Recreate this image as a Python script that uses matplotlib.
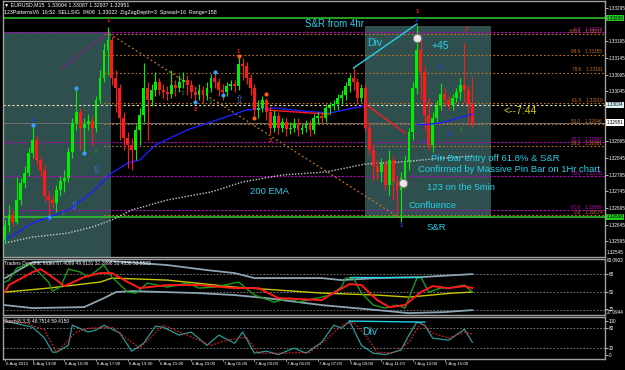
import matplotlib
matplotlib.use("Agg")
import matplotlib.pyplot as plt
import matplotlib.transforms as mtransforms
from matplotlib.patches import Rectangle

plt.rcParams['font.family'] = ['Liberation Sans', 'DejaVu Sans']

W, H = 625, 370

# ---- EURUSD M15 bars, 6 Aug 11:15 -> 7 Aug 16:45 ----
first_open = 1.32599
closes = [1.32644, 1.32674, 1.32653, 1.32719, 1.32770, 1.32800, 1.32860, 1.32899, 1.32839, 1.32809,
          1.32731, 1.32719, 1.32710, 1.32749, 1.32776, 1.32785, 1.32863, 1.32950, 1.32983, 1.32935,
          1.32947, 1.32956, 1.32935, 1.33019, 1.33085, 1.33169, 1.33199, 1.33085, 1.33055, 1.32965,
          1.32905, 1.32884, 1.32869, 1.32929, 1.32974, 1.33055, 1.33019, 1.33049, 1.33073, 1.33049,
          1.33043, 1.33037, 1.33064, 1.33055, 1.33073, 1.33079, 1.33064, 1.33043, 1.33034, 1.33049,
          1.33034, 1.33055, 1.33085, 1.33073, 1.33049, 1.33043, 1.33061, 1.33067, 1.33061, 1.33127,
          1.33121, 1.33085, 1.33055, 1.32989, 1.32995, 1.33019, 1.32983, 1.32935, 1.32971, 1.32935,
          1.32953, 1.32932, 1.32935, 1.32950, 1.32929, 1.32935, 1.32947, 1.32929, 1.32965, 1.32971,
          1.32965, 1.32995, 1.33001, 1.33007, 1.33025, 1.33034, 1.33061, 1.33085, 1.33073, 1.33025,
          1.33055, 1.32935, 1.32869, 1.32821, 1.32803, 1.32827, 1.32764, 1.32839, 1.32773, 1.32749,
          1.32785, 1.32833, 1.32923, 1.33055, 1.33169, 1.33103, 1.32974, 1.32884, 1.32965, 1.33001,
          1.33037, 1.33019, 1.33004, 1.33025, 1.33043, 1.33064, 1.33049, 1.33004, 1.32951]
highs = [1.32659, 1.32704, 1.32689, 1.32788, 1.32785, 1.32821, 1.32875, 1.32944, 1.32914, 1.32851,
         1.32824, 1.32749, 1.32734, 1.32764, 1.32791, 1.32809, 1.32878, 1.32965, 1.33055, 1.32995,
         1.32965, 1.32977, 1.32971, 1.33031, 1.33109, 1.33190, 1.33238, 1.33211, 1.33109, 1.33067,
         1.32983, 1.32923, 1.32905, 1.32944, 1.32995, 1.33130, 1.33073, 1.33067, 1.33103, 1.33085,
         1.33067, 1.33061, 1.33109, 1.33079, 1.33094, 1.33103, 1.33094, 1.33079, 1.33061, 1.33067,
         1.33061, 1.33073, 1.33097, 1.33103, 1.33085, 1.33067, 1.33073, 1.33079, 1.33079, 1.33154,
         1.33145, 1.33133, 1.33097, 1.33067, 1.33019, 1.33031, 1.33025, 1.33001, 1.32989, 1.32983,
         1.32965, 1.32965, 1.32953, 1.32965, 1.32965, 1.32947, 1.32959, 1.32959, 1.32977, 1.32983,
         1.32983, 1.33007, 1.33013, 1.33019, 1.33037, 1.33049, 1.33073, 1.33097, 1.33115, 1.33085,
         1.33067, 1.33067, 1.32953, 1.32887, 1.32839, 1.32845, 1.32839, 1.32869, 1.32851, 1.32791,
         1.32803, 1.32851, 1.32935, 1.33073, 1.33244, 1.33199, 1.33121, 1.33025, 1.32983, 1.33019,
         1.33070, 1.33055, 1.33034, 1.33037, 1.33055, 1.33085, 1.33190, 1.33064, 1.33087]
lows = [1.32590, 1.32623, 1.32641, 1.32647, 1.32704, 1.32755, 1.32791, 1.32845, 1.32824, 1.32791,
        1.32713, 1.32674, 1.32695, 1.32683, 1.32731, 1.32743, 1.32773, 1.32845, 1.32929, 1.32869,
        1.32863, 1.32929, 1.32881, 1.32923, 1.33007, 1.33073, 1.33094, 1.33064, 1.32983, 1.32899,
        1.32869, 1.32815, 1.32809, 1.32839, 1.32884, 1.32953, 1.32899, 1.33001, 1.33031, 1.33034,
        1.33025, 1.33019, 1.33025, 1.33031, 1.33043, 1.33055, 1.33034, 1.33025, 1.33013, 1.33019,
        1.33010, 1.33019, 1.33043, 1.33055, 1.33031, 1.33019, 1.33031, 1.33049, 1.33043, 1.33049,
        1.33079, 1.33067, 1.33034, 1.32965, 1.32965, 1.32983, 1.32959, 1.32917, 1.32923, 1.32917,
        1.32923, 1.32911, 1.32917, 1.32923, 1.32911, 1.32917, 1.32923, 1.32911, 1.32917, 1.32947,
        1.32947, 1.32953, 1.32977, 1.32989, 1.32989, 1.33007, 1.33019, 1.33043, 1.33049, 1.33007,
        1.33013, 1.32923, 1.32854, 1.32779, 1.32779, 1.32773, 1.32749, 1.32734, 1.32719, 1.32677,
        1.32653, 1.32755, 1.32809, 1.32899, 1.33037, 1.33019, 1.32929, 1.32869, 1.32863, 1.32953,
        1.32989, 1.33001, 1.32989, 1.32989, 1.33013, 1.33019, 1.33013, 1.32944, 1.32937]

# moving averages (sampled at bar index)
ema200_bars = [0, 7, 16, 22, 27, 32, 41, 52, 60, 70, 81, 91, 100, 108, 118]
ema200_vals = [1.32590, 1.32608, 1.32620, 1.32638, 1.32659, 1.32689, 1.32719, 1.32743, 1.32773,
               1.32794, 1.32803, 1.32827, 1.32833, 1.32842, 1.32851]
ema50_bars = [0, 7, 16, 22, 27, 31, 34, 38, 46, 52, 61, 68, 75, 82, 88, 91]
ema50_vals = [1.32599, 1.32650, 1.32689, 1.32743, 1.32800, 1.32830, 1.32839, 1.32884, 1.32929,
              1.32953, 1.32989, 1.32995, 1.32986, 1.32980, 1.32995, 1.33001]
ema50b_bars = [104, 105, 110, 118]
ema50b_vals = [1.32947, 1.32944, 1.32950, 1.32977]
red_ma_bars = [[66, 77, 82], [91, 101]]
red_ma_vals = [[1.32989, 1.32980, 1.32977], [1.33007, 1.32920]]

# levels
sr_levels = [1.33265, 1.32668]
bid_price = 1.32951
white_level = 1.33004
fib_orange = (1.32674, 1.33217)       # 0.0, 100.0
fib_magenta = (1.33223, 1.32359)      # 0.0, 100.0
fib_orange_levels = [0.0, 38.2, 50.0, 61.8, 78.6, 88.6, 100.0]
fib_magenta_levels = [0.0, 38.2, 50.0, 61.8]
price_ticks = [1.33295, 1.33245, 1.33195, 1.33145, 1.33095, 1.33045, 1.32995, 1.32945,
               1.32895, 1.32845, 1.32795, 1.32745, 1.32695, 1.32645, 1.32595]

# drawn objects (bar index, price)
orange_trend = ([26.5, 99.7], [1.33217, 1.32665])
magenta_trend = ([14.4, 26.2], [1.33115, 1.33223])
cyan_trend = ([88, 104], [1.33115, 1.33247])
box1 = (-0.5, 26.8, 1.32548, 1.33223)
box2 = (90.9, 122.7, 1.32665, 1.33241)

blue_dot_bars = [7, 18, 11, 53, 48, 55, 20]
blue_dot_vals = [1.32944, 1.33055, 1.32668, 1.33103, 1.33013, 1.33034, 1.32860]
orange_dot_bars = [59, 63, 66]
orange_dot_vals = [1.33150, 1.32965, 1.33037]
ring_bars = [100.5, 104]
ring_vals = [1.32770, 1.33205]
red_nums = [("1", 26, 1.33259), ("2", 29, 1.32983), ("1", 59, 1.33163), ("2", 67, 1.32899),
            ("1", 104, 1.33283), ("2", 116.5, 1.33229), ("2", 48, 1.32990)]
blue_nums = [("2", 7, 1.32956), ("1", 11, 1.32656), ("2", 104, 1.33259), ("1", 100, 1.32641),
             ("2", 110, 1.33115), ("3", 112, 1.32917), ("3", 106, 1.32893)]
big_arrow_bars = [23, 17.5, 59]
big_arrow_vals = [1.32809, 1.32700, 1.33019]
small_arrow_bars = [23, 14.5, 45, 52, 98, 115]
small_arrow_vals = [1.32863, 1.32677, 1.33040, 1.33013, 1.32770, 1.32929]

# Traders Dynamic Index
tdi_up_bars = [0, 7, 24, 41, 51, 58, 63, 80, 85, 94, 105, 118]
tdi_up = [64, 80, 82, 77, 72, 69, 64, 64, 62, 64, 65, 68]
tdi_lo_bars = [0, 7, 20, 25, 28, 32, 49, 58, 66, 80, 94, 102, 111, 118]
tdi_lo = [37, 34, 35, 44, 50, 51, 49, 47, 44, 37, 32, 29, 30, 32]
tdi_mid_bars = [0, 11, 24, 27, 41, 58, 80, 94, 102, 113, 118]
tdi_mid = [50, 54, 60, 64, 62, 55, 49, 47, 45, 49, 50]
tdi_sig_bars = [0, 1, 7, 9, 12, 15, 20, 24, 27, 31, 34, 41, 49, 58, 64, 69, 80, 82, 87, 90,
                94, 97, 101, 105, 108, 112, 116, 118]
tdi_sig = [50, 57, 70, 73, 65, 56, 65, 69, 69, 60, 54, 57, 57, 54, 54, 44, 42, 47, 58, 57,
           42, 35, 37, 50, 56, 54, 56, 54]
tdi_rsi_bars = [0, 1, 3, 6, 7, 11, 12, 14, 16, 19, 21, 25, 27, 31, 33, 36, 41, 46, 49, 53,
                59, 63, 68, 72, 74, 80, 82, 85, 86, 88, 90, 93, 96, 99, 101, 102, 104, 105, 107, 110,
                112, 116, 118]
tdi_rsi = [60, 62, 74, 78, 76, 60, 51, 55, 73, 70, 65, 77, 65, 50, 49, 59, 55, 59, 54, 55,
           60, 47, 40, 44, 40, 45, 47, 55, 64, 64, 49, 37, 34, 37, 34, 44, 64, 65, 50, 54,
           54, 57, 50]

# Stochastic
st_main_bars = [0, 7, 10, 12, 13, 16, 17, 21, 23, 25, 29, 32, 35, 38, 40, 44, 47, 51, 54, 58,
                60, 63, 66, 69, 73, 76, 80, 83, 85, 87, 90, 93, 96, 100, 102, 104, 106, 108, 112, 116, 118]
st_main = [100, 82, 50, 9, 9, 29, 88, 68, 74, 88, 65, 12, 35, 85, 82, 59, 68, 29, 59, 35,
           68, 6, 12, 2, 21, 6, 38, 88, 79, 100, 29, 6, 2, 15, 59, 97, 88, 50, 44, 76, 38]
st_sig_bars = [0, 5, 10, 13, 18, 21, 27, 34, 40, 46, 52, 56, 61, 64, 71, 77, 81, 85, 88, 91,
               94, 98, 102, 105, 108, 112, 116, 118]
st_sig = [100, 95, 74, 9, 68, 79, 82, 21, 88, 59, 29, 44, 53, 6, 6, 9, 44, 88, 97, 59,
          9, 6, 38, 94, 65, 50, 68, 62]

time_label_bars = [0, 7, 15, 23, 31, 39, 47, 55, 63, 71, 79, 87, 95, 103, 111]
time_labels = ["6 Aug 2013", "6 Aug 13:00", "6 Aug 15:00", "6 Aug 17:00", "6 Aug 19:00",
               "6 Aug 21:00", "6 Aug 23:00", "7 Aug 01:00", "7 Aug 03:00", "7 Aug 05:00",
               "7 Aug 07:00", "7 Aug 09:00", "7 Aug 11:00", "7 Aug 13:00", "7 Aug 15:00"]

BULL, BEAR = "#00ee00", "#ff1a1a"
CYAN = "#22d0e8"
ORANGE = "#c8741c"
MAGENTA = "#c000c0"
GRID = "#8a8a8a"
SMALL = 3.3


def fig_axes(top, bottom):
    return fig.add_axes([3 / W, 1 - bottom / H, (605 - 3) / W, (bottom - top) / H])


def style(ax):
    ax.set_facecolor("black")
    for s in ax.spines.values():
        s.set_color("#a0a0a0")
        s.set_linewidth(1.0)
    ax.set_xlim(-0.5, 151.5)
    ax.set_xticks([])
    ax.yaxis.tick_right()
    ax.tick_params(axis="y", colors="white", labelsize=SMALL, length=2, pad=1, width=0.5)


def ftext(x, y, s, **kw):
    fig.text(x / W, 1 - y / H, s, **kw)


fig = plt.figure(figsize=(W / 100, H / 100), dpi=100, facecolor="black")

# ================= main price panel =================
ax = fig_axes(1, 257)
style(ax)
ax.set_ylim(1.32548, 1.33316)

for x0, x1, y0, y1 in (box1, box2):
    ax.add_patch(Rectangle((x0, y0), x1 - x0, y1 - y0, color="#2f4f4f", zorder=0, lw=0))

# magenta fib (full width)
mtop, mbot = fib_magenta
for lv in fib_magenta_levels:
    p = mtop + lv / 100 * (mbot - mtop)
    ax.axhline(p, color=MAGENTA, lw=0.8, ls=(0, (2, 1.5)), zorder=1)
    ax.text(150.8, p + 0.00001, f"{lv:.1f}    {p:.5f}", color=MAGENTA, fontsize=SMALL,
            ha="right", va="bottom", zorder=6)

# orange fib (from the swing high to the right)
flo, fhi = fib_orange
for lv in fib_orange_levels:
    p = flo + lv / 100 * (fhi - flo)
    ax.hlines(p, 25, 151.5, color=ORANGE, lw=0.8, linestyles=(0, (1.5, 2)), zorder=1)
    ax.text(150.8, p + 0.00001, f"{lv:.1f}    {p:.5f}", color=ORANGE, fontsize=SMALL,
            ha="right", va="bottom", zorder=6)

ax.axhline(white_level, color="#f0e0b0", lw=0.8, ls=(0, (2, 2)), zorder=1)
ax.axhline(bid_price, color="#707070", lw=0.7, zorder=1)
for p in sr_levels:
    ax.axhline(p, color="#2ecc2e", lw=1.1, zorder=2)

ax.plot(*orange_trend, color=ORANGE, lw=0.9, ls=(0, (1.5, 2)), zorder=2)
ax.plot(*magenta_trend, color=MAGENTA, lw=0.9, ls=(0, (1.5, 1.5)), zorder=2)
ax.plot(*cyan_trend, color=CYAN, lw=1.0, zorder=5)

ax.plot(ema200_bars, ema200_vals, color="#c8c8c8", lw=1.0, ls=(0, (1, 1.2)), zorder=2)
ax.plot(ema50_bars, ema50_vals, color="#1e1eff", lw=1.0, zorder=2)
ax.plot(ema50b_bars, ema50b_vals, color="#1e1eff", lw=1.0, zorder=4)
for b, v in zip(red_ma_bars, red_ma_vals):
    ax.plot(b, v, color="#ff1a1a", lw=1.0, zorder=3)

# candles
opens = [first_open] + closes[:-1]
xs = list(range(len(closes)))
cols = [BULL if c >= o else BEAR for o, c in zip(opens, closes)]
ax.vlines(xs, lows, highs, colors=cols, lw=0.8, zorder=3)
bottoms = [min(o, c) for o, c in zip(opens, closes)]
heights = [max(abs(c - o), 0.00002) for o, c in zip(opens, closes)]
ax.bar(xs, heights, bottom=bottoms, width=0.72, color=cols, lw=0, zorder=3)

# indicator marks
ax.scatter(blue_dot_bars, blue_dot_vals, s=9, color="#3aa0ff", zorder=6, lw=0)
ax.scatter(orange_dot_bars, orange_dot_vals, s=9, color="#ff5a1a", zorder=6, lw=0)
ax.scatter(ring_bars, ring_vals, s=38, facecolor="#e8e8e8", edgecolor="#707070", lw=0.8, zorder=7)
for t, b, v in red_nums:
    ax.text(b, v, t, color="#ff2020", fontsize=4.2, ha="center", va="center", zorder=7, fontweight="bold")
for t, b, v in blue_nums:
    ax.text(b, v, t, color="#2040ff", fontsize=4.2, ha="center", va="center", zorder=7, fontweight="bold")
for b, v in zip(big_arrow_bars, big_arrow_vals):
    ax.text(b, v, "\u21e7", color="#3070e0", fontsize=8, ha="center", va="center", zorder=6,
            family="DejaVu Sans")
for b, v in zip(small_arrow_bars, small_arrow_vals):
    ax.text(b, v, "\u21e7", color="#2e8b2e", fontsize=5, ha="center", va="center", zorder=6,
            family="DejaVu Sans")

# right price scale
hl = {sr_levels[0]: "#22cc22", sr_levels[1]: "#22cc22", white_level: "#d8f4f8", bid_price: "#ffffff"}
ticks = [t for t in price_ticks if all(abs(t - p) > 0.00022 for p in hl)]
ax.set_yticks(ticks)
ax.set_yticklabels([f"{t:.5f}" for t in ticks])
btr = mtransforms.blended_transform_factory(ax.transAxes, ax.transData)
for p, c in hl.items():
    ax.text(1.003, p, f"{p:.5f}", transform=btr, fontsize=SMALL, color="black", va="center",
            ha="left", bbox=dict(fc=c, ec="none", pad=0.5), clip_on=False)

# header
ftext(4, 5, "\u25bc EURUSD,M15  1.33004 1.33087 1.32937 1.32951", color="white", fontsize=3.8, va="center")
ftext(4, 12.5, "123PatternsV6  16:52  SELLSIG  8408  1.33022  ZigZagDepth=3  Spread=16  Range=158",
      color="white", fontsize=3.8, va="center")

# annotations
for x, y, s, fs, c in [(305, 24, "S&R from 4hr", 7, CYAN), (367, 43, "Div", 7.5, CYAN),
                       (432, 46, "+45", 7.5, CYAN), (503, 111, "<--7:44", 7.5, "#d8d000"),
                       (431, 158, "Pin Bar entry off 61.8% & S&R", 6.8, CYAN),
                       (418, 169, "Confirmed by Massive Pin Bar on 1Hr chart", 6.8, CYAN),
                       (427, 188, "123 on the 5min", 6.8, CYAN), (408, 206, "Confluence", 6.8, CYAN),
                       (427, 228, "S&R", 6.8, CYAN), (250, 192, "200 EMA", 6.8, CYAN)]:
    ftext(x, y, s, color=c, fontsize=fs, va="center", ha="left", zorder=10)

ftext(607, 253, "1.32545", color="white", fontsize=SMALL, va="center")

# ================= TDI panel =================
ax2 = fig_axes(259, 315)
style(ax2)
ax2.set_ylim(27.0944, 83.0903)
for lv in (68, 50, 32):
    ax2.axhline(lv, color=GRID, lw=0.6, ls=(0, (2, 2)))
ax2.plot(tdi_up_bars, tdi_up, color="#8aa4b4", lw=1.3)
ax2.plot(tdi_lo_bars, tdi_lo, color="#8aa4b4", lw=1.3)
ax2.plot(tdi_mid_bars, tdi_mid, color="#c8c800", lw=1.0)
ax2.plot(tdi_rsi_bars, tdi_rsi, color="#1c9a1c", lw=1.0)
ax2.plot(tdi_sig_bars, tdi_sig, color="#ff1a1a", lw=1.4)
ax2.plot([87, 105], [65, 65], color=CYAN, lw=1.0)
ax2.set_yticks([68, 50, 33.5])
ax2.set_yticklabels(["68", "50", "32"])
ftext(607, 261, "83.0903", color="white", fontsize=SMALL, va="center")
ftext(607, 313, "27.0944", color="white", fontsize=SMALL, va="center")
ftext(4, 263, "Traders Dynamic Index 67.4089 49.8131 32.2898 50.4836 53.5583",
      color="white", fontsize=3.5, va="center")

# ================= Stochastic panel =================
ax3 = fig_axes(317, 359)
style(ax3)
ax3.set_ylim(-11, 112)
for lv in (80, 20):
    ax3.axhline(lv, color=GRID, lw=0.6, ls=(0, (2, 2)))
ax3.plot(st_main_bars, st_main, color="#2a9a9a", lw=0.9)
ax3.plot(st_sig_bars, st_sig, color="#ff1a1a", lw=0.8, ls=(0, (1.5, 1.5)))
ax3.plot([87, 106], [100, 97], color=CYAN, lw=1.0)
ax3.set_yticks([100, 80, 20, 0])
ax3.set_yticklabels(["100", "80", "20", "0"])
ftext(4, 322, "Stoch(8,3,3) 48.7514 59.4150", color="white", fontsize=3.5, va="center")
ftext(362, 332, "Div", color=CYAN, fontsize=7.5, va="center")

# time axis
tt = mtransforms.blended_transform_factory(ax3.transData, fig.transFigure)
for b, s in zip(time_label_bars, time_labels):
    ax3.text(b + 0.2, 1 - 364 / H, s, transform=tt, color="white", fontsize=3.2,
             ha="left", va="center", clip_on=False)
    ax3.plot([b, b], [1 - 359 / H, 1 - 361 / H], transform=tt, color="#a0a0a0", lw=0.6, clip_on=False)

fig.savefig("out.png", dpi=100, facecolor="black")
